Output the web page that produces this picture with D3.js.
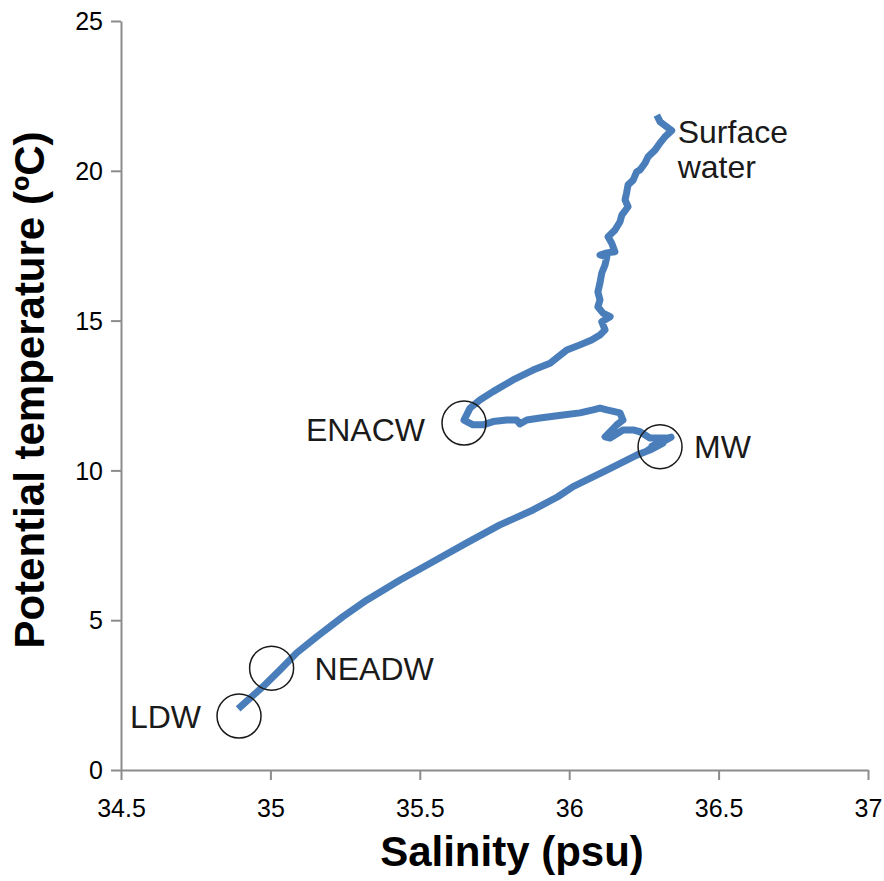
<!DOCTYPE html>
<html>
<head>
<meta charset="utf-8">
<script src="https://cdn.jsdelivr.net/npm/d3@7"></script>
<style>
  html, body { margin: 0; padding: 0; background: #ffffff; }
  svg { display: block; }
</style>
</head>
<body>
<div id="chart"></div>
<script>
// ---- Data ----
const salinity = [
  36.293, 36.304, 36.327, 36.343, 36.321, 36.304, 36.287, 36.264, 36.254, 36.237,
  36.226, 36.214, 36.197, 36.192, 36.187, 36.197, 36.176, 36.170, 36.153, 36.130,
  36.142, 36.153, 36.126, 36.103, 36.126, 36.120, 36.109, 36.103, 36.096, 36.103,
  36.096, 36.113, 36.137, 36.109, 36.120, 36.103, 36.075, 36.036, 35.992, 35.958,
  35.936, 35.879, 35.812, 35.745, 35.701, 35.668, 35.648, 35.678, 35.712, 35.745,
  35.791, 35.824, 35.835, 35.858, 35.902, 35.979, 36.036, 36.080, 36.103, 36.126,
  36.170, 36.180, 36.159, 36.120, 36.137, 36.180, 36.214, 36.237, 36.270, 36.331,
  36.277, 36.341, 36.264, 36.311, 36.314, 36.270, 36.226, 36.126, 36.013, 35.962,
  35.879, 35.768, 35.657, 35.544, 35.434, 35.322, 35.243, 35.155, 35.088, 35.032,
  34.975, 34.932, 34.892
];
const temperature = [
  21.86, 21.64, 21.46, 21.34, 21.14, 20.93, 20.69, 20.47, 20.26, 20.03,
  19.97, 19.69, 19.53, 19.26, 19.03, 18.80, 18.52, 18.30, 18.02, 17.80,
  17.59, 17.30, 17.26, 17.19, 17.13, 16.86, 16.59, 16.26, 15.96, 15.69,
  15.46, 15.25, 15.13, 14.96, 14.69, 14.52, 14.35, 14.19, 14.02, 13.75,
  13.58, 13.35, 13.02, 12.63, 12.35, 12.08, 11.68, 11.52, 11.52, 11.63,
  11.68, 11.68, 11.55, 11.68, 11.75, 11.85, 11.92, 12.02, 12.08, 12.02,
  11.92, 11.68, 11.52, 11.12, 11.08, 11.35, 11.35, 11.29, 11.08, 11.08,
  10.81, 11.11, 10.68, 10.91, 10.91, 10.68, 10.51, 10.01, 9.46, 9.12,
  8.68, 8.18, 7.58, 6.95, 6.34, 5.67, 5.12, 4.45, 3.91, 3.34,
  2.78, 2.40, 2.04
];

// Water-mass markers (circle centre in data units)
const massNames = ["LDW", "NEADW", "ENACW", "MW"];
const massSal   = [34.895, 35.004, 35.648, 36.304];
const massTemp  = [1.80, 3.40, 11.58, 10.79];

const xTicks = [34.5, 35, 35.5, 36, 36.5, 37];
const yTicks = [0, 5, 10, 15, 20, 25];
const xTitle = "Salinity (psu)";
const yTitle = "Potential temperature (\u00BAC)";
const surfaceLabel = ["Surface", "water"];

// ---- Layout ----
const W = 884, H = 881;
const mLeft = 121, mRight = 868, mTop = 21, mBottom = 770;

const x = d3.scaleLinear().domain([34.5, 37]).range([mLeft, mRight]);
const y = d3.scaleLinear().domain([0, 25]).range([mBottom, mTop]);

const svg = d3.select("#chart").append("svg")
  .attr("width", W).attr("height", H);

const axisColor = "#8c8c8c";
const font = "'Liberation Sans', Arial, sans-serif";

// X axis
const gx = svg.append("g").attr("transform", `translate(0,${mBottom})`)
  .call(d3.axisBottom(x).tickValues(xTicks).tickSize(10).tickSizeOuter(0)
    .tickFormat(d3.format("")));
gx.select(".domain").attr("stroke", axisColor).attr("stroke-width", 2);
gx.selectAll(".tick line").attr("stroke", axisColor).attr("stroke-width", 2);
gx.selectAll(".tick text").attr("fill", "#000").attr("font-family", font)
  .attr("font-size", 25).attr("dy", null).attr("y", 47);

// Y axis
const gy = svg.append("g").attr("transform", `translate(${mLeft},0)`)
  .call(d3.axisLeft(y).tickValues(yTicks).tickSize(10).tickSizeOuter(0));
gy.select(".domain").attr("stroke", axisColor).attr("stroke-width", 2);
gy.selectAll(".tick line").attr("stroke", axisColor).attr("stroke-width", 2);
gy.selectAll(".tick text").attr("fill", "#000").attr("font-family", font)
  .attr("font-size", 25).attr("x", -18).attr("dy", "0.35em");

// Axis titles
svg.append("text")
  .attr("x", 512).attr("y", 866)
  .attr("text-anchor", "middle")
  .attr("font-family", font).attr("font-weight", "bold").attr("font-size", 42)
  .attr("fill", "#000")
  .text(xTitle);

svg.append("text")
  .attr("transform", `translate(44,390) rotate(-90)`)
  .attr("text-anchor", "middle")
  .attr("font-family", font).attr("font-weight", "bold").attr("font-size", 42)
  .attr("fill", "#000")
  .text(yTitle);

// Profile line
const pts = salinity.map((s, i) => [s, temperature[i]]);
const line = d3.line().x(d => x(d[0])).y(d => y(d[1]));
svg.append("path")
  .datum(pts)
  .attr("d", line)
  .attr("fill", "none")
  .attr("stroke", "#4a7ebb")
  .attr("stroke-width", 7)
  .attr("stroke-linejoin", "round")
  .attr("stroke-linecap", "butt");

// Circles marking water masses
svg.selectAll("circle.mass")
  .data(massNames)
  .join("circle")
  .attr("class", "mass")
  .attr("cx", (d, i) => x(massSal[i]))
  .attr("cy", (d, i) => y(massTemp[i]))
  .attr("r", 22)
  .attr("fill", "none")
  .attr("stroke", "#1a1a1a")
  .attr("stroke-width", 1.5);

// Labels
const labelStyle = sel => sel.attr("font-family", font).attr("font-size", 32).attr("fill", "#1a1a1a");
svg.append("text").call(labelStyle)
  .attr("x", x(massSal[0]) - 38).attr("y", y(massTemp[0]) + 12)
  .attr("text-anchor", "end").text(massNames[0]);
svg.append("text").call(labelStyle)
  .attr("x", x(massSal[1]) + 43).attr("y", y(massTemp[1]) + 12)
  .attr("text-anchor", "start").text(massNames[1]);
svg.append("text").call(labelStyle)
  .attr("x", x(massSal[2]) - 39).attr("y", y(massTemp[2]) + 18)
  .attr("text-anchor", "end").text(massNames[2]);
svg.append("text").call(labelStyle)
  .attr("x", x(massSal[3]) + 34).attr("y", y(massTemp[3]) + 11)
  .attr("text-anchor", "start").text(massNames[3]);
const surfTop = pts[3];
svg.append("text").call(labelStyle)
  .attr("x", x(surfTop[0]) + 6).attr("y", y(surfTop[1]) + 12)
  .text(surfaceLabel[0]);
svg.append("text").call(labelStyle)
  .attr("x", x(surfTop[0]) + 6).attr("y", y(surfTop[1]) + 47)
  .text(surfaceLabel[1]);
</script>
</body>
</html>
